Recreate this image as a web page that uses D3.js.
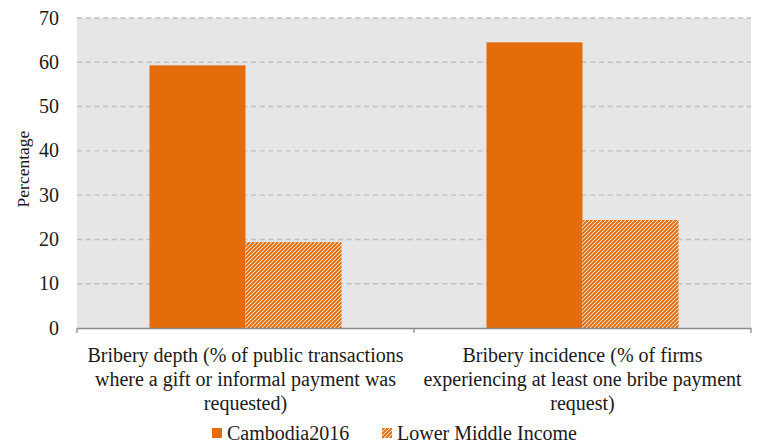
<!DOCTYPE html>
<html><head><meta charset="utf-8">
<script src="https://cdn.jsdelivr.net/npm/d3@7"></script>
<style>body{margin:0;background:#fff}svg{display:block}</style>
</head><body>
<script>
const categories = [
  ["Bribery depth (% of public transactions","where a gift or informal payment was","requested)"],
  ["Bribery incidence (% of firms","experiencing at least one bribe payment","request)"]
];
const categoryKeys = ["depth","incidence"];
const seriesNames = ["Cambodia2016","Lower Middle Income"];
const cambodia2016 = [59.3, 64.5];
const lowerMiddleIncome = [19.4, 24.4];
const yTicks = [0,10,20,30,40,50,60,70];

const W=760,H=445;
const FONT="'Liberation Serif'";
const FS=20;
const m={l:77,r:9,t:18,b:117};
const svg=d3.select("body").append("svg").attr("width",W).attr("height",H);
const txt=(sel)=>sel.style("font-family",FONT).attr("fill","#1a1a1a");
const defs=svg.append("defs");
const pat=defs.append("pattern").attr("id","hatch").attr("patternUnits","userSpaceOnUse")
  .attr("width",4).attr("height",4);
pat.append("rect").attr("width",4).attr("height",4).attr("fill","#fff");
pat.append("path").attr("d","M-1,1 l2,-2 M0,4 l4,-4 M3,5 l2,-2")
  .attr("stroke","#E46C0A").attr("stroke-width",2);

const x=d3.scaleBand().domain(categoryKeys).range([m.l,W-m.r]);
const x1=d3.scaleBand().domain(seriesNames).range([0,x.bandwidth()]).paddingOuter(0.755).paddingInner(0);
const y=d3.scaleLinear().domain([0,70]).range([H-m.b,m.t]);

svg.append("rect").attr("x",m.l).attr("y",m.t).attr("width",W-m.r-m.l).attr("height",H-m.b-m.t).attr("fill","#e6e6e6");

svg.append("g").selectAll("line").data(yTicks.filter(d=>d>0)).join("line")
  .attr("x1",m.l).attr("x2",W-m.r).attr("y1",d=>y(d)).attr("y2",d=>y(d))
  .attr("stroke","#c0c0c0").attr("stroke-width",1.4).attr("stroke-dasharray","5,3.7");

const series=[cambodia2016,lowerMiddleIncome];
const fills=["#E46C0A","url(#hatch)"];
series.forEach((vals,si)=>{
  svg.append("g").selectAll("rect").data(vals).join("rect")
    .attr("x",(d,i)=>x(categoryKeys[i])+x1(seriesNames[si]))
    .attr("width",x1.bandwidth())
    .attr("y",d=>y(d)).attr("height",d=>y(0)-y(d))
    .attr("fill",fills[si]);
});

// x axis
const xa=svg.append("g");
xa.append("line").attr("x1",m.l).attr("x2",W-m.r).attr("y1",y(0)+0.5).attr("y2",y(0)+0.5).attr("stroke","#8c8c8c").attr("stroke-width",1.5);
const bounds=[m.l, ...categoryKeys.map(k=>x(k)+x.bandwidth())];
xa.selectAll("line.t").data(bounds).join("line").attr("class","t")
  .attr("x1",d=>d).attr("x2",d=>d).attr("y1",y(0)).attr("y2",y(0)+5).attr("stroke","#8c8c8c").attr("stroke-width",1.3);

categories.forEach((lines,i)=>{
  const t=svg.append("text").attr("text-anchor","middle").attr("font-size",FS).call(txt);
  lines.forEach((ln,j)=>t.append("tspan").attr("x",x(categoryKeys[i])+x.bandwidth()/2).attr("y",362+j*24).text(ln));
});

// y axis labels
svg.append("g").selectAll("text").data(yTicks).join("text")
  .attr("x",59).attr("y",d=>y(d)+6.5).attr("text-anchor","end").attr("font-size",FS).call(txt).text(d=>d);
svg.append("text").attr("transform","translate(29,169) rotate(-90)").attr("text-anchor","middle").attr("font-size",17.5).call(txt).text("Percentage");

// legend
const lg=svg.append("g");
const legX=[212,382];
seriesNames.forEach((s,i)=>{
  lg.append("rect").attr("x",legX[i]).attr("y",428).attr("width",10).attr("height",10).attr("fill",fills[i]);
  lg.append("text").attr("x",legX[i]+15).attr("y",440).attr("font-size",FS).call(txt).text(s);
});
</script>
</body></html>
